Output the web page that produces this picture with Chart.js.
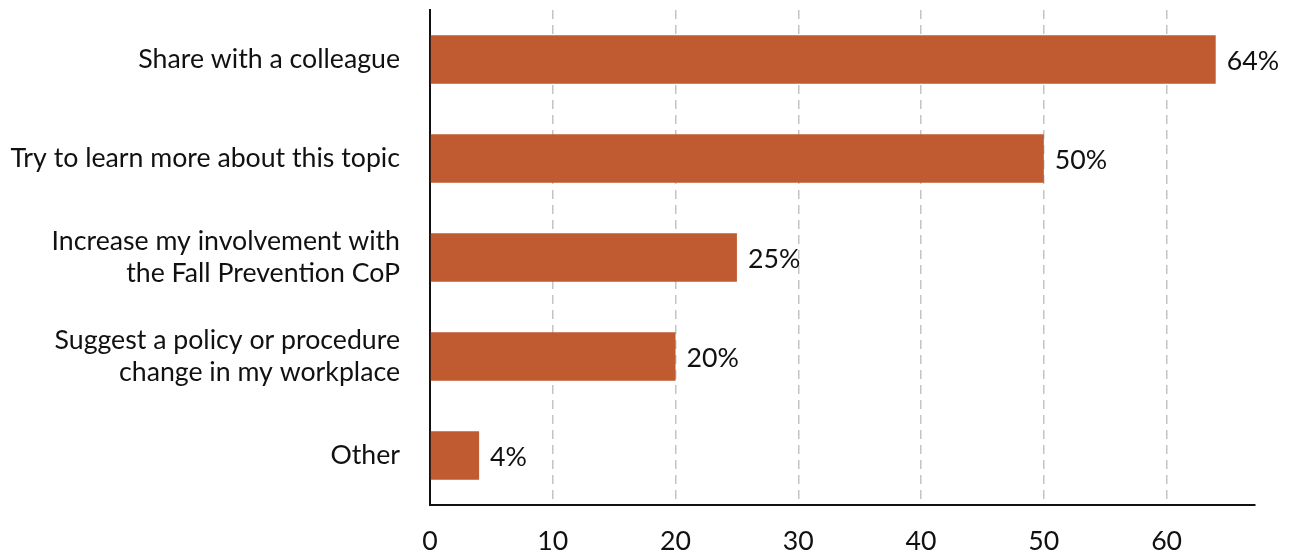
<!DOCTYPE html>
<html>
<head>
<meta charset="utf-8">
<script src="https://cdn.jsdelivr.net/npm/chart.js@4/dist/chart.umd.min.js"></script>
<style>
  html, body { margin: 0; padding: 0; background: #ffffff; }
  #wrap { width: 1289px; height: 555px; position: relative; }
</style>
</head>
<body>
<div id="wrap"><canvas id="chart"></canvas></div>
<script>
// Survey responses: what respondents plan to do next
const categories = [
  "Share with a colleague",
  "Try to learn more about this topic",
  ["Increase my involvement with", "the Fall Prevention CoP"],
  ["Suggest a policy or procedure", "change in my workplace"],
  "Other"
];
const percentValues = [64, 50, 25, 20, 4];
const xTickValues = [0, 10, 20, 30, 40, 50, 60];

const BAR_COLOR = "#c05a30";
const TEXT_COLOR = "#111111";
const FONT_FAMILY = "Lato, 'Open Sans', sans-serif";
const FONT_SIZE = 26.7;

// Value labels printed just past the end of each bar
const valueLabels = {
  id: "valueLabels",
  afterDatasetsDraw(chart) {
    const { ctx } = chart;
    const meta = chart.getDatasetMeta(0);
    ctx.save();
    ctx.font = FONT_SIZE + "px " + FONT_FAMILY;
    ctx.fillStyle = TEXT_COLOR;
    ctx.textAlign = "left";
    ctx.textBaseline = "middle";
    meta.data.forEach((bar, i) => {
      ctx.fillText(percentValues[i] + "%", bar.x + 11, bar.y + 2);
    });
    ctx.restore();
  }
};

new Chart(document.getElementById("chart"), {
  type: "bar",
  data: {
    labels: categories,
    datasets: [{
      data: percentValues,
      backgroundColor: BAR_COLOR,
      borderWidth: 0,
      barPercentage: 0.49,
      categoryPercentage: 1.0
    }]
  },
  options: {
    indexAxis: "y",
    responsive: true,
    maintainAspectRatio: false,
    animation: false,
    layout: { padding: { top: 10, right: 34, left: 0, bottom: 0 } },
    plugins: {
      legend: { display: false },
      tooltip: { enabled: false }
    },
    scales: {
      x: {
        min: 0,
        max: 67.2,
        afterBuildTicks(scale) {
          scale.ticks = xTickValues.map(v => ({ value: v }));
        },
        afterFit(scale) {
          scale.height = 50;
          scale.paddingLeft = 0;
          scale.paddingRight = 0;
        },
        grid: {
          drawTicks: false,
          lineWidth: 1.5,
          color: (c) => (c.tick && c.tick.value === 0) ? "rgba(0,0,0,0)" : "#c4c4c4"
        },
        border: { display: true, color: "#111111", width: 2, dash: [9, 6] },
        ticks: {
          padding: 20,
          color: TEXT_COLOR,
          font: { family: FONT_FAMILY, size: FONT_SIZE }
        }
      },
      y: {
        afterFit(scale) {
          scale.width = 430;
          scale.paddingTop = 0;
          scale.paddingBottom = 0;
        },
        grid: { display: false, drawTicks: false },
        border: { display: true, color: "#111111", width: 2 },
        ticks: {
          padding: 30,
          color: TEXT_COLOR,
          font: { family: FONT_FAMILY, size: FONT_SIZE, lineHeight: 1.2 }
        }
      }
    }
  },
  plugins: [valueLabels]
});
</script>
</body>
</html>
